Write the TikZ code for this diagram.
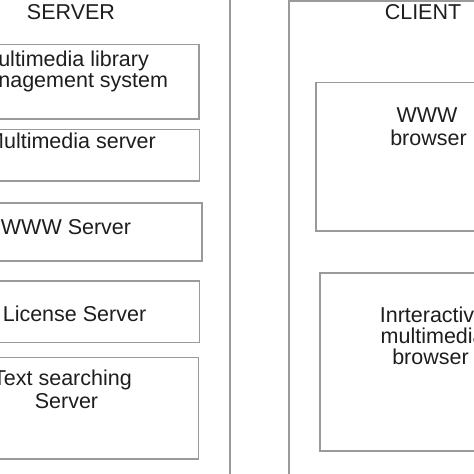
\documentclass[tikz,border=0pt]{standalone}
\usepackage{fontspec}
\setmainfont{Liberation Sans}
\definecolor{linegray}{HTML}{9A9A9A}
\definecolor{txt}{HTML}{1E1E1E}
\tikzset{
  box/.style={draw=linegray, line width=1.2pt, inner sep=0pt, outer sep=0pt, anchor=south west},
  lbl/.style={anchor=base, inner sep=0pt, text=txt, font=\fontsize{21.5}{21.7}\selectfont}
}
\begin{document}
\begin{tikzpicture}[x=1pt,y=1pt]
\useasboundingbox (0,0) rectangle (474,474);
\clip (0,0) rectangle (474,474);
\fill[white] (0,0) rectangle (474,474);
% containers
\node[box, minimum width=330pt, minimum height=520pt] (server) at (-100,-20) {};
\node[box, minimum width=300pt, minimum height=500pt, anchor=north west] (client) at (289,473) {};
% titles
\node[lbl] (tserver) at (71,454.5) {SERVER};
\node[lbl] (tclient) at (423,454.5) {CLIENT};
% server boxes
\node[box, minimum width=269pt, minimum height=74.3pt] (s1) at (-70,355) {};
\node[box, minimum width=269.5pt, minimum height=51.5pt] (s2) at (-70,293) {};
\node[box, minimum width=272pt, minimum height=58pt] (s3) at (-70,213) {};
\node[box, minimum width=269.3pt, minimum height=61.3pt] (s4) at (-70,131.7) {};
\node[box, minimum width=268.7pt, minimum height=101.3pt] (s5) at (-70,15) {};
\node[lbl] (s1a) at (64.6,407.5) {Multimedia library};
\node[lbl] (s1b) at (68.3,386) {management system};
\node[lbl] (s2a) at (71,325.7) {Multimedia server};
\node[lbl] (s3a) at (66,239) {WWW Server};
\node[lbl] (s4a) at (74.5,152.7) {License Server};
\node[lbl] (s5a) at (62.5,88.3) {Text searching};
\node[lbl] (s5b) at (66.5,65) {Server};
% client boxes
\node[box, minimum width=230pt, minimum height=148.5pt] (c1) at (316,243) {};
\node[box, minimum width=230pt, minimum height=178pt] (c2) at (320,23) {};
\node[lbl] (c1a) at (427,351.3) {WWW};
\node[lbl] (c1b) at (428.5,328.5) {browser};
\node[lbl] (c2a) at (433,151.7) {Inrteractive};
\node[lbl] (c2b) at (432.7,130) {multimedia};
\node[lbl] (c2c) at (430.5,109) {browser};
\end{tikzpicture}
\end{document}
